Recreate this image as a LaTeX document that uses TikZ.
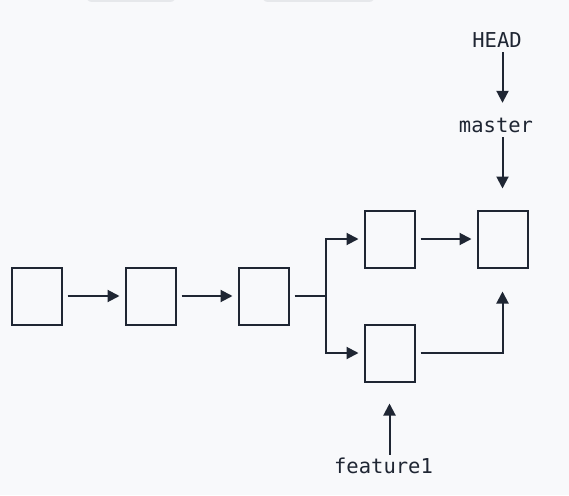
\documentclass[tikz,border=0pt]{standalone}
\usepackage{fontspec}
\setmonofont{DejaVu Sans Mono}
\usetikzlibrary{arrows.meta}
\definecolor{ink}{HTML}{1F2633}
\definecolor{paper}{HTML}{F8F9FB}
\definecolor{tab}{HTML}{E6E8EB}
\begin{document}
\begin{tikzpicture}[x=1pt,y=-1pt,
  commit/.style={draw=ink,line width=2pt,minimum width=50pt,minimum height=57pt,inner sep=0pt},
  ref/.style={inner sep=0pt,text height=15pt,text depth=4pt,anchor=base,text=ink,
    font=\ttfamily\fontsize{20.5}{24}\selectfont},
  link/.style={draw=ink,line width=2pt,-{Triangle[length=12pt,width=12pt]}}]
  % page and the two tab edges at the top
  \fill[paper] (0,0) rectangle (569,495);
  \useasboundingbox (0,0) rectangle (569,495);
  \fill[tab,rounded corners=6pt] (86,-12) rectangle (176,2);
  \fill[tab,rounded corners=6pt] (262,-12) rectangle (375,2);
  % commits
  \node[commit] (c1) at (36.5,296) {};
  \node[commit] (c2) at (150.5,296) {};
  \node[commit] (c3) at (263.5,296) {};
  \node[commit] (c4) at (389.5,239) {};
  \node[commit] (c5) at (389.5,353) {};
  \node[commit] (c6) at (502.5,239) {};
  \coordinate (fork) at (326,296);
  % branch pointers
  \node[ref] (head) at (497,48) {HEAD};
  \node[ref] (master) at (496,132) {master};
  \node[ref] (feat) at (383.5,473) {feature1};
  % history
  \draw[link,shorten <=5pt,shorten >=5pt] (c1) -- (c2);
  \draw[link,shorten <=5pt,shorten >=5pt] (c2) -- (c3);
  \draw[ink,line width=2pt,shorten <=5pt] (c3.east) -- (fork);
  \draw[link,shorten >=5pt] (fork) |- (c4);
  \draw[link,shorten >=5pt] (fork) |- (c5);
  \draw[link,shorten <=5pt,shorten >=5pt] (c4) -- (c6);
  \draw[link,shorten <=5pt,shorten >=23pt] (c5) -| (c6);
  % pointer arrows, running down the commit's centre line
  \draw[link,shorten >=14pt] (c6 |- head.south) -- (c6 |- master.north);
  \draw[link,shorten <=1pt,shorten >=21pt] (c6 |- master.south) -- (c6.north);
  \draw[link,shorten <=3pt,shorten >=21pt] (c5 |- feat.north) -- (c5.south);
\end{tikzpicture}
\end{document}
